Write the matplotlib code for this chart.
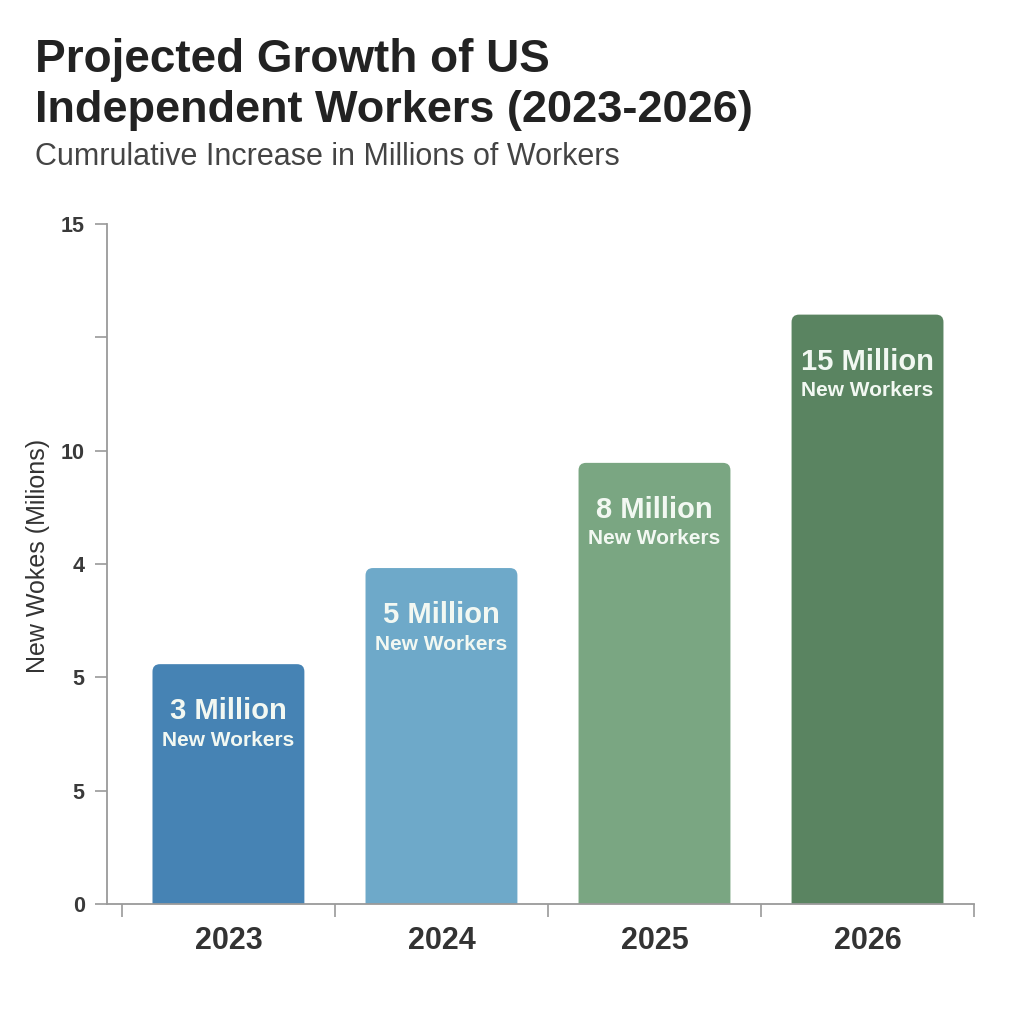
import matplotlib
matplotlib.use("Agg")
import matplotlib.pyplot as plt
from matplotlib.patches import FancyBboxPatch

plt.rcParams['font.family'] = ['Liberation Sans', 'DejaVu Sans']

categories = ["2023", "2024", "2025", "2026"]
bar_heights = [5.29, 7.41, 9.73, 13.0]
value_labels = ["3 Million", "5 Million", "8 Million", "15 Million"]
sub_labels = ["New Workers", "New Workers", "New Workers", "New Workers"]
colors = ["#4683b4", "#6ea9c9", "#7aa682", "#5a8461"]
ytick_pos = [0, 2.5, 5, 7.5, 10, 12.5, 15]
ytick_labels = ["0", "5", "5", "4", "10", "", "15"]

fig = plt.figure(figsize=(10.24, 10.24), dpi=100)
ax = fig.add_axes([0.1045, 0.1172, 0.8467, 0.6641])

x = list(range(len(categories)))
bars = ax.bar(x, bar_heights, width=0.713, color=colors)
ax.set_xlim(-0.57, 3.5)
ax.set_ylim(0, 15)

# rounded-top bars
fig.canvas.draw()
bbox = ax.get_window_extent()
px_per_x = bbox.width / (3.5 + 0.57)
px_per_y = bbox.height / 15
aspect = px_per_x / px_per_y
for b, c in zip(bars, colors):
    bx, bw, bh = b.get_x(), b.get_width(), b.get_height()
    b.set_visible(False)
    p = FancyBboxPatch((bx, -1), bw, bh + 1,
                       boxstyle="round,pad=0,rounding_size=0.035",
                       mutation_aspect=aspect, facecolor=c, edgecolor="none")
    ax.add_patch(p)

for xi, h, v, s in zip(x, bar_heights, value_labels, sub_labels):
    ax.annotate(v, (xi, h), xytext=(0, -47), textcoords="offset pixels",
                ha="center", va="center", fontsize=21, fontweight="bold", color="#f2f8f2")
    ax.annotate(s, (xi, h), xytext=(0, -76), textcoords="offset pixels",
                ha="center", va="center", fontsize=15, fontweight="bold", color="#f2f8f2")

for sp in ["top", "right"]:
    ax.spines[sp].set_visible(False)
for sp in ["left", "bottom"]:
    ax.spines[sp].set_color("#9a9a9a")
    ax.spines[sp].set_linewidth(1.3)

ax.set_yticks(ytick_pos)
ax.set_yticklabels(ytick_labels, fontsize=15.5, fontweight="bold", color="#3a3a3a")
ax.tick_params(axis="y", length=9, color="#9a9a9a", width=1.2, pad=7)

ax.set_xticks([-0.5, 0.5, 1.5, 2.5, 3.5])
ax.set_xticklabels([])
ax.set_xticks(x, minor=True)
ax.set_xticklabels(categories, minor=True, fontsize=22, fontweight="bold", color="#333333")
ax.tick_params(axis="x", which="major", length=9, color="#9a9a9a", width=1.2)
ax.tick_params(axis="x", which="minor", length=0, pad=16)

ax.set_ylabel("New Wokes (Milions)", fontsize=18, color="#333333")
ax.yaxis.set_label_coords(-0.066, 0.512)

fig.text(0.034, 0.941, "Projected Growth of US", fontsize=33, fontweight="bold",
         color="#222222", va="center", ha="left")
fig.text(0.034, 0.892, "Independent Workers (2023-2026)", fontsize=32.5, fontweight="bold",
         color="#222222", va="center", ha="left")
fig.text(0.034, 0.847, "Cumrulative Increase in Millions of Workers", fontsize=22,
         color="#444444", va="center", ha="left")

fig.savefig("out.png", dpi=100, facecolor="white")
